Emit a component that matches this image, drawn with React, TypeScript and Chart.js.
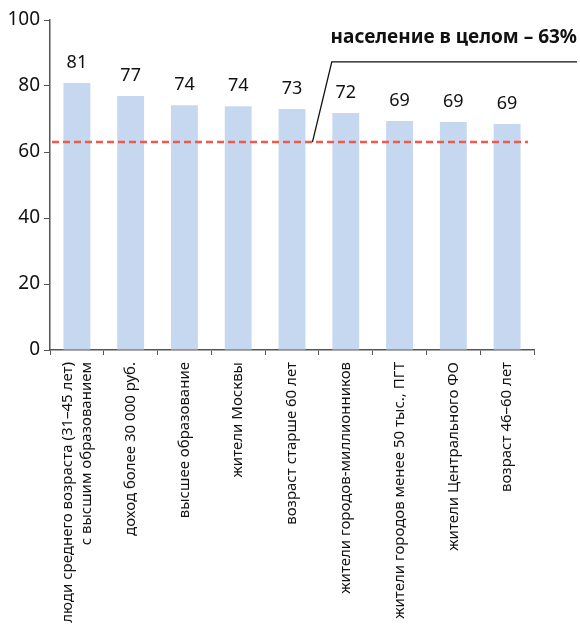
import React, { useEffect, useRef } from "react";
import { Chart, registerables } from "chart.js";

Chart.register(...registerables);

const categories: (string | string[])[] = [
  ["люди среднего возраста (31–45 лет)", "с высшим образованием"],
  "доход более 30 000 руб.",
  "высшее образование",
  "жители Москвы",
  "возраст старше 60 лет",
  "жители городов-миллионников",
  "жители городов менее 50 тыс., ПГТ",
  "жители Центрального ФО",
  "возраст 46–60 лет",
];
const values = [80.9, 77, 74.2, 73.9, 73, 71.8, 69.4, 69.1, 68.5];
const valueLabels = ["81", "77", "74", "74", "73", "72", "69", "69", "69"];
const yTicks = [0, 20, 40, 60, 80, 100];
const overallValue = 63;
const overallLabel = "население в целом – 63%";

const FONT = "'Noto Sans', sans-serif";

const overlayPlugin = {
  id: "overlay",
  afterDatasetsDraw(chart: any) {
    const { ctx, chartArea, scales } = chart;
    const x = scales.x;
    const y = scales.y;
    const meta = chart.getDatasetMeta(0);
    ctx.save();
    // value labels
    ctx.fillStyle = "#111";
    ctx.font = `18px ${FONT}`;
    ctx.textAlign = "center";
    ctx.textBaseline = "alphabetic";
    meta.data.forEach((bar: any, i: number) => {
      ctx.fillText(valueLabels[i], bar.x, bar.y - 15);
    });
    // category labels (rotated, multi-line centred on tick)
    ctx.font = `15px ${FONT}`;
    ctx.textAlign = "right";
    ctx.textBaseline = "middle";
    const lh = 19;
    categories.forEach((c, i) => {
      const lines = Array.isArray(c) ? c : [c];
      const px = x.getPixelForValue(i);
      lines.forEach((ln, j) => {
        const off = (j - (lines.length - 1) / 2) * lh;
        ctx.save();
        ctx.translate(px + off, chartArea.bottom + 12);
        ctx.rotate(-Math.PI / 2);
        ctx.fillText(ln, 0, 0);
        ctx.restore();
      });
    });
    // dashed line
    const yl = y.getPixelForValue(overallValue);
    ctx.strokeStyle = "#ef5a4c";
    ctx.lineWidth = 2.5;
    ctx.setLineDash([7, 4]);
    ctx.beginPath();
    ctx.moveTo(chartArea.left + 2, yl);
    ctx.lineTo(chartArea.right - 6, yl);
    ctx.stroke();
    // annotation leader
    ctx.setLineDash([]);
    ctx.strokeStyle = "#111";
    ctx.lineWidth = 1.3;
    const x0 = x.getPixelForValue(4.38);
    const x1 = x.getPixelForValue(4.74);
    const yTop = y.getPixelForValue(87.3);
    ctx.beginPath();
    ctx.moveTo(x0, yl);
    ctx.lineTo(x1, yTop);
    ctx.lineTo(chart.width - 3, yTop);
    ctx.stroke();
    ctx.font = `bold 19px ${FONT}`;
    ctx.textAlign = "right";
    ctx.textBaseline = "alphabetic";
    ctx.fillStyle = "#111";
    ctx.fillText(overallLabel, chart.width - 3, yTop - 19);
    ctx.restore();
  },
};

export default function App() {
  const ref = useRef<HTMLCanvasElement>(null);
  useEffect(() => {
    if (!ref.current) return;
    const chart = new Chart(ref.current, {
      type: "bar",
      data: {
        labels: categories,
        datasets: [
          {
            data: values,
            backgroundColor: "#c6d8f0",
            categoryPercentage: 1,
            barPercentage: 0.5,
          },
        ],
      },
      options: {
        animation: false,
        responsive: false,
        devicePixelRatio: 1,
        layout: { padding: { top: 20, right: 46, left: 0, bottom: 0 } },
        plugins: { legend: { display: false }, tooltip: { enabled: false } },
        scales: {
          x: {
            offset: true,
            grid: {
              display: true,
              drawOnChartArea: false,
              drawTicks: true,
              tickLength: 5,
              color: "#555",
              offset: true,
            },
            border: { color: "#555", width: 1.5 },
            ticks: {
              autoSkip: false,
              minRotation: 90,
              maxRotation: 90,
              padding: 6,
              color: "rgba(0,0,0,0)",
              font: { family: FONT, size: 15 },
            },
            afterFit: (s: any) => {
              s.height = 278;
            },
          },
          y: {
            min: 0,
            max: 100,
            afterBuildTicks: (s: any) => {
              s.ticks = yTicks.map((v) => ({ value: v }));
            },
            grid: {
              display: true,
              drawOnChartArea: false,
              tickLength: 6,
              color: "#555",
            },
            border: { color: "#555", width: 1.5 },
            ticks: {
              padding: 4,
              color: "#111",
              font: { family: FONT, size: 19 },
            },
            afterFit: (s: any) => {
              s.width = 50;
            },
          },
        },
      },
      plugins: [overlayPlugin],
    });
    return () => chart.destroy();
  }, []);
  return (
    <div style={{ position: "absolute", left: 0, top: 0, width: 580, height: 628 }}>
      <canvas ref={ref} width={580} height={628} style={{ width: 580, height: 628 }} />
    </div>
  );
}
